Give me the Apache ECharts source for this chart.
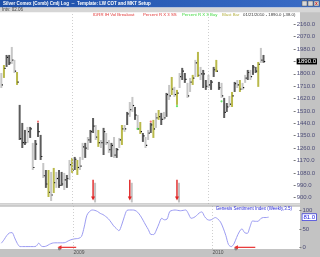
<!DOCTYPE html>
<html><head><meta charset="utf-8">
<script src="https://cdn.jsdelivr.net/npm/echarts@6/dist/echarts.min.js"></script>
<style>html,body{margin:0;padding:0;background:#fff;overflow:hidden}#c{width:320px;height:257px}</style>
</head><body><div id="c"></div>
<script>
// ---------------- data ----------------
const firstWeek = '2008-06-27';
const totalWeeks = 112;
const highs = [
 1806,1864,1937,1937,1995,1901,1813,1574,1443,1392,
 1414,1414,1298,1319,1443,1356,1152,1101,1101,1087,
 1116,1087,1101,1087,1080,1065,1174,1189,1196,1174,
 1196,1298,1298,1341,1392,1479,1428,1392,1319,1407,
 1370,1319,1298,1341,1261,1334,1428,1428,1523,1595,
 1632,1559,1501,1450,1370,1341,1392,1443,1465,1516,
 1537,1516,1523,1661,1719,1777,1705,1683,1806,1843,
 1806,1734,1770,1792,1901,1959,1850,1828,1755,1792,
 1755,1850,1901,1741,1734,1625,1588,1639,1668,1741,
 1755,1755,1734,1792,1828,1828,1864,1850,1886,1988,
 1937];
const lows = [
 1697,1770,1850,1864,1872,1806,1719,1319,1261,1283,
 1298,1334,1101,1174,1341,1174,1043,971,905,876,
 934,971,971,985,956,971,1029,1080,1101,1065,
 1101,1174,1189,1247,1298,1370,1319,1269,1261,1210,
 1283,1225,1196,1189,1189,1261,1283,1378,1428,1487,
 1523,1465,1392,1363,1305,1261,1319,1370,1334,1407,
 1465,1428,1465,1487,1610,1646,1632,1574,1697,1755,
 1734,1625,1668,1719,1777,1777,1755,1697,1683,1697,
 1683,1777,1813,1683,1625,1479,1523,1559,1559,1668,
 1697,1668,1683,1734,1755,1755,1792,1806,1705,1879,
 1880];
const closes = [
 1720,1840,1920,1880,1900,1820,1740,1330,1300,1300,
 1380,1400,1120,1290,1380,1200,1060,1000,940,920,
 1010,1040,990,1000,1030,1040,1140,1100,1180,1120,
 1130,1270,1260,1320,1380,1420,1340,1300,1300,1380,
 1300,1250,1280,1210,1250,1320,1400,1400,1510,1540,
 1570,1500,1400,1380,1350,1280,1370,1430,1400,1480,
 1490,1470,1480,1650,1640,1690,1650,1660,1780,1820,
 1760,1640,1740,1770,1880,1790,1800,1800,1710,1720,
 1740,1830,1820,1700,1640,1520,1560,1580,1640,1730,
 1720,1690,1700,1770,1810,1780,1850,1820,1870,1900,
 1890];
// L = light gray, D = dark gray, O = blast bar (olive)
const barTones = ('LODDLLODDD'+'LDLDDDLDOL'+'OLDDLDLODO'+'LLDLDDLOLD'+'LLDLDLOLDL'+
                  'LDLODLLDOL'+'ODLDLOLOLD'+'DLLOLOLDDL'+'DDODLDDLOD'+'LOLLDLDDOL'+'D').split('');
const sentiment = [
 12,21,32,39,40,26,11,3,3,3,
 3,3,3,4,12,4,3,5,9,12,
 13,13,13,13,14,18,21,23,24,25,
 30,55,86,96,100,99,96,91,88,83,
 77,68,58,51,45,60,82,99,100,100,
 99,94,85,73,60,48,35,35,47,64,
 78,74,76,96,99,100,99,98,99,100,
 90,78,80,85,92,95,83,75,73,76,
 80,76,68,52,32,8,3,10,27,42,
 50,40,38,55,71,70,70,77,80,80,
 81];
const sellArrows = [[35,1030,880],[49,1030,880],[67,1030,880]]; // [week, from, to]
const sentArrows = [[21,28,1],[87,95,1]];                      // [head week, tail week, value]
const redMarks = [[14,1452],[57,1452]];
const greenMarks = [[52,1400],[67,1565],[84,1600]];
const priceTicks = [900,990,1080,1170,1260,1350,1440,1530,1620,1710,1800,1890,1980,2070,2160];
const sentTicks = [0,50,100];
const legendItems = [
 ['IDRR IH Vol Breakout','#e03434'],['Percent R X 3 SS','#e03434'],
 ['Percent R X 3 Buy','#3ad83a'],['Blast Bar','#b4b040'],['01/21/2010 - 1890.0 (-38.0)','#303030']];

// categories (weekly dates)
const weeks = [];
(function(){ const t0 = Date.parse(firstWeek+'T00:00:00Z');
  for (let i=0;i<totalWeeks;i++) weeks.push(new Date(t0+i*7*864e5).toISOString().slice(0,10)); })();
const isYearStart = (v)=> v.slice(5,7)==='01' && +v.slice(8,10)<=7;
const yearLines = weeks.filter(isYearStart).map(v=>({xAxis:v}));

const FONT = 'Liberation Sans, Arial, sans-serif';
const toneColor = {L:'#c6c6c6', D:'#5c5c5c', O:'#b9b94a'};
const lastClose = closes[closes.length-1];
const lastSent = sentiment[sentiment.length-1];

const chart = echarts.init(document.getElementById('c'), null, {renderer:'canvas', width:320, height:257});

const legendX = [93,143,182,222,243];

chart.setOption({
  animation:false,
  backgroundColor:'#ffffff',
  grid:[
    {left:0, right:20.6, top:12, height:192},
    {left:0, right:20.6, top:206, height:43}
  ],
  xAxis:[
    {gridIndex:0, type:'category', data:weeks, boundaryGap:true, axisLine:{show:false}, axisTick:{show:false}, axisLabel:{show:false}, splitLine:{show:false}},
    {gridIndex:1, type:'category', data:weeks, boundaryGap:true, axisLine:{show:false}, axisTick:{show:false}, splitLine:{show:false},
     axisLabel:{interval:(i,v)=>isYearStart(v), formatter:v=>v.slice(0,4), align:'left', margin:1.5, fontSize:5, color:'#505050', fontFamily:FONT}}
  ],
  yAxis:[
    {gridIndex:0, type:'value', position:'right', min:854, max:2249, splitLine:{show:false}, axisLine:{show:false},
     axisTick:{show:true, customValues:priceTicks, length:2, lineStyle:{color:'#7a7a7a'}},
     axisLabel:{customValues:priceTicks, margin:3, fontSize:6, color:'#4c4c78', fontFamily:FONT,
       formatter:v=> v===lastClose ? '{box|'+v.toFixed(1)+'}' : v.toFixed(1),
       rich:{box:{backgroundColor:'#000', color:'#fff', fontSize:6, padding:[0,1,0,1], fontFamily:FONT}}}},
    {gridIndex:1, type:'value', position:'right', min:-3.4, max:110.6, splitLine:{show:false}, axisLine:{show:false},
     axisTick:{show:true, customValues:sentTicks, length:2, lineStyle:{color:'#7a7a7a'}},
     axisLabel:{customValues:sentTicks.concat([lastSent]), margin:3, fontSize:6, color:'#4c4c78', fontFamily:FONT,
       formatter:v=> v===lastSent ? '{box|'+v.toFixed(1)+'}' : String(v),
       rich:{box:{backgroundColor:'#fff', color:'#1a1ae0', borderColor:'#1a1ae0', borderWidth:0.6, fontSize:6, padding:[0,1,0,1], fontFamily:FONT}}}}
  ],
  graphic:[
    {type:'rect', z:-10, shape:{x:300, y:12, width:20, height:245}, style:{fill:'#c3c3c3'}},
    {type:'rect', z:-10, shape:{x:0, y:249, width:320, height:8}, style:{fill:'#c3c3c3'}},
    {type:'rect', z:100, shape:{x:0, y:203.5, width:300, height:1}, style:{fill:'#a4a4a4'}},
    {type:'rect', z:100, shape:{x:0, y:204.5, width:300, height:1}, style:{fill:'#e4e4e4'}},
    {type:'rect', z:100, shape:{x:0, y:205.5, width:300, height:1}, style:{fill:'#a4a4a4'}},
    {type:'rect', z:100, shape:{x:0, y:0, width:320, height:7.5},
      style:{fill:new echarts.graphic.LinearGradient(0,0,1,0,[{offset:0,color:'#1d4fa8'},{offset:1,color:'#3a6cc6'}])}},
    {type:'rect', z:100, shape:{x:0, y:7.5, width:320, height:4.8}, style:{fill:'#d6d6d6'}},
    {type:'text', z:101, x:3, y:3.8, style:{text:'Silver Comex (Comb) Cmlj Log  --  Template: LW COT and MKT Setup', fill:'#ffffff', font:'bold 4.5px '+FONT, textVerticalAlign:'middle'}},
    {type:'text', z:101, x:2, y:10, style:{text:'Intv: 02.06', fill:'#404040', font:'4.5px '+FONT, textVerticalAlign:'middle'}},
    {type:'rect', z:101, shape:{x:302, y:1, width:5, height:5}, style:{fill:'#d8d8d8', stroke:'#555', lineWidth:0.5}},
    {type:'rect', z:101, shape:{x:308, y:1, width:5, height:5}, style:{fill:'#d8d8d8', stroke:'#555', lineWidth:0.5}},
    {type:'rect', z:101, shape:{x:314, y:1, width:5, height:5}, style:{fill:'#d8d8d8', stroke:'#555', lineWidth:0.5}},
    {type:'text', z:102, x:316.5, y:3.6, style:{text:'x', fill:'#d02020', font:'bold 5px '+FONT, textAlign:'center', textVerticalAlign:'middle'}},
    {type:'text', z:101, x:292, y:208.5, style:{text:'Genesis Sentiment Index (Weekly,3.5)', fill:'#2a2ad8', font:'4.5px '+FONT, textAlign:'right', textVerticalAlign:'middle'}}
  ].concat(legendItems.map((it,k)=>({type:'text', z:101, x:legendX[k], y:15.2,
      style:{text:it[0], fill:it[1], font:'4.3px '+FONT, textVerticalAlign:'middle'}}))),
  series:[
    {type:'custom', name:'price', xAxisIndex:0, yAxisIndex:0, clip:true,
     data: highs.map((h,i)=>[i,h,lows[i],closes[i]]),
     renderItem:(params, api)=>{
       const i = api.value(0);
       const x = api.coord([i, api.value(1)])[0];
       const yh = api.coord([i, api.value(1)])[1];
       const yl = api.coord([i, api.value(2)])[1];
       const yc = api.coord([i, api.value(3)])[1];
       const col = toneColor[barTones[params.dataIndex]];
       return {type:'group', children:[
         {type:'rect', shape:{x:x-1, y:yh, width:2, height:Math.max(1,yl-yh)}, style:{fill:col}},
         {type:'rect', shape:{x:x+0.5, y:yc-0.5, width:1.2, height:1.2}, style:{fill:'#111'}}
       ]};
     }},
    {type:'scatter', xAxisIndex:0, yAxisIndex:0, data:redMarks, symbolSize:2.2, itemStyle:{color:'#f05050'}, silent:true,
     markLine:{silent:true, symbol:['none','none'], label:{show:false}, lineStyle:{color:'#cfcfcf', type:[1,2], width:1}, data:yearLines}},
    {type:'scatter', xAxisIndex:0, yAxisIndex:0, data:greenMarks, symbolSize:2.2, itemStyle:{color:'#40e040'}, silent:true},
    {type:'custom', xAxisIndex:0, yAxisIndex:0, data:sellArrows, z:5,
     renderItem:(params, api)=>{
       const i = api.value(0);
       const p1 = api.coord([i, api.value(1)]);
       const p2 = api.coord([i, api.value(2)]);
       const x = p1[0];
       return {type:'group', children:[
         {type:'line', shape:{x1:x+2, y1:p1[1]+3, x2:x+2, y2:p2[1]+2}, style:{stroke:'#c4c4c4', lineWidth:2}},
         {type:'line', shape:{x1:x, y1:p1[1], x2:x, y2:p2[1]-3}, style:{stroke:'#e02222', lineWidth:1.4}},
         {type:'polygon', shape:{points:[[x-2,p2[1]-4],[x+2,p2[1]-4],[x,p2[1]]]}, style:{fill:'#e02222'}}
       ]};
     }},
    {type:'line', name:'sentiment', xAxisIndex:1, yAxisIndex:1, data:sentiment, showSymbol:false, smooth:0.3,
     lineStyle:{color:'#9c9cf2', width:1}, silent:true,
     markLine:{silent:true, symbol:['none','none'], label:{show:false}, lineStyle:{color:'#cfcfcf', type:[1,2], width:1}, data:yearLines}},
    {type:'custom', xAxisIndex:1, yAxisIndex:1, data:sentArrows, z:5, clip:false,
     renderItem:(params, api)=>{
       const h = api.coord([api.value(0), api.value(2)]);
       const t = api.coord([api.value(1), api.value(2)]);
       const y = h[1];
       return {type:'group', children:[
         {type:'circle', shape:{cx:h[0]+2, cy:y+1.5, r:1.6}, style:{fill:'#8a8a8a'}},
         {type:'line', shape:{x1:h[0]+3, y1:y, x2:t[0], y2:y}, style:{stroke:'#e83030', lineWidth:1.2}},
         {type:'polygon', shape:{points:[[h[0],y],[h[0]+4,y-2],[h[0]+4,y+2]]}, style:{fill:'#e83030'}}
       ]};
     }}
  ]
});
</script></body></html>
